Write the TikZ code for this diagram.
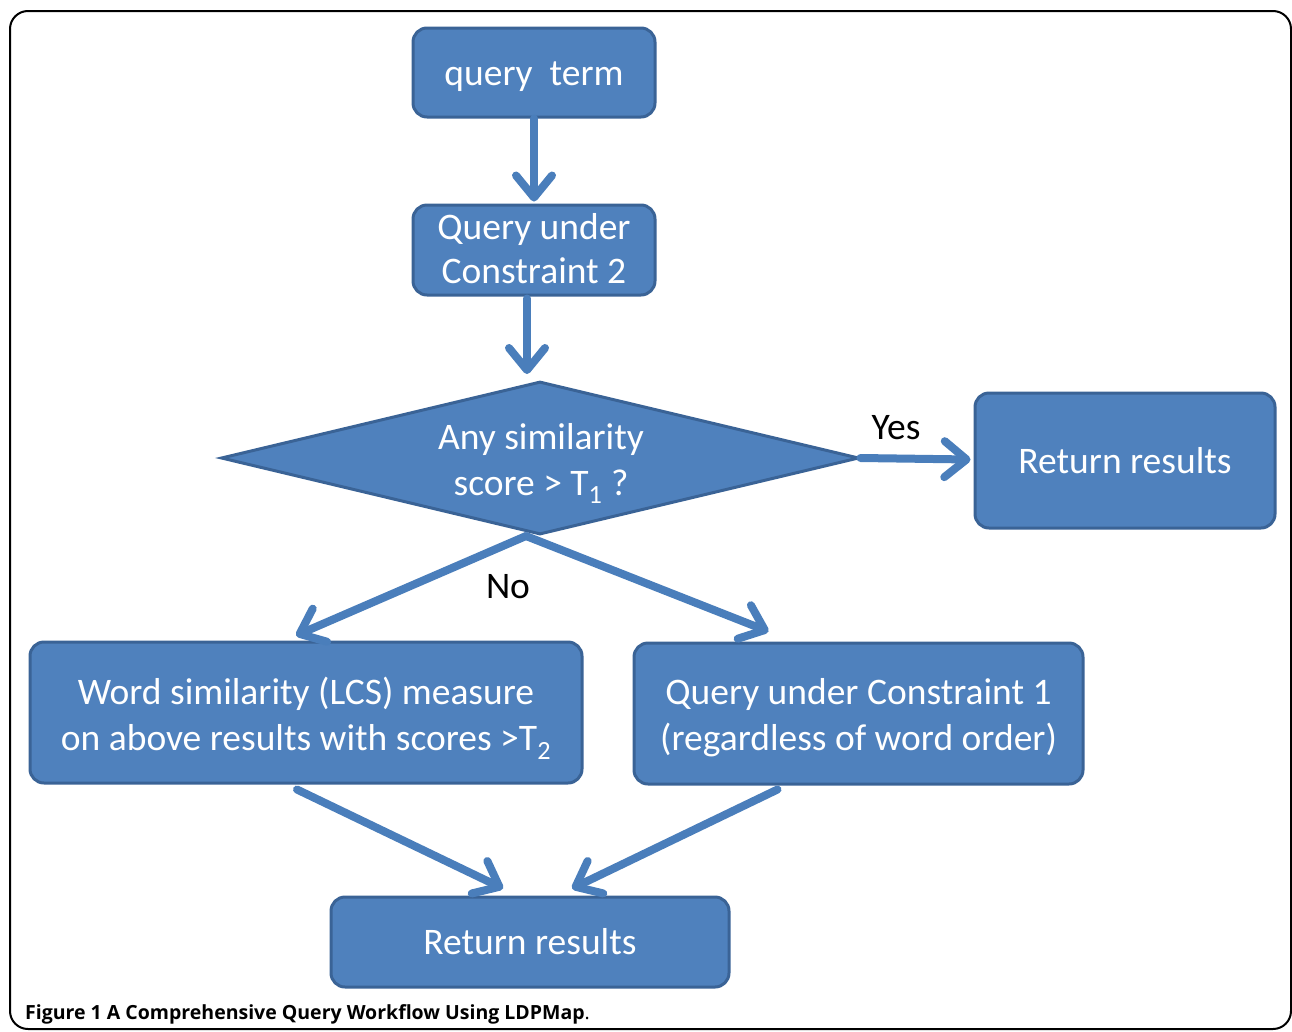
\documentclass[tikz,border=0pt]{standalone}
\usepackage{fontspec}
\setmainfont{Carlito}
\newfontfamily\capfont{Open Sans}
\usetikzlibrary{arrows.meta,shapes.geometric,calc}
\definecolor{boxfill}{HTML}{4F81BD}
\definecolor{boxline}{HTML}{3A6396}
\definecolor{arrowc}{HTML}{4A7EBB}
\newcommand\twolines[3]{\raisebox{-#1}[\height][\depth]{\begin{tabular}{@{}c@{}}#2\\#3\end{tabular}}}
\begin{document}
\begin{tikzpicture}[x=1pt,y=-1pt,
  box/.style={draw=boxline, line width=3pt, fill=boxfill, rounded corners=14pt,
    text=white, font=\fontsize{37.5}{46}\selectfont, align=center, inner sep=0pt},
  decision/.style={diamond, draw=boxline, line width=3pt, fill=boxfill,
    inner sep=0pt, minimum width=638pt, minimum height=153pt},
  dtext/.style={text=white, font=\fontsize{37.5}{46}\selectfont, align=center, inner sep=0pt},
  flow/.style={draw=arrowc, line width=8pt, line cap=round,
    -{Straight Barb[length=22pt,width=36pt,line cap=round,line join=round]}},
  lbl/.style={font=\fontsize{37.5}{44}\selectfont, text=black, inner sep=0pt}
]
\useasboundingbox (0,0) rectangle (1292,1031);
\draw[line width=2pt, rounded corners=18pt] (10,11) rectangle (1291,1029);

\node[box, minimum width=242pt, minimum height=89pt, text height=33pt, text depth=8pt] (qt) at (534,72.5) {query~~term};
\node[box, minimum width=242pt, minimum height=90pt, font=\fontsize{37.5}{44}\selectfont] (qc2) at (534,250) {\twolines{3pt}{Query under}{Constraint 2}};
\node[decision] (dec) at (540,458) {};
\node[dtext] (dect) at (541,460) {\twolines{3pt}{Any similarity}{score > T\textsubscript{1} ?}};
\node[box, minimum width=300pt, minimum height=135pt] (rr) at (1125,460.5) {Return results};
\node[box, minimum width=552pt, minimum height=141pt] (ws) at (306,712.5) {\twolines{6pt}{Word similarity (LCS) measure}{on above results with scores >T\textsubscript{2}}};
\node[box, minimum width=449pt, minimum height=141pt] (qc1) at (858.5,713.5) {\twolines{5pt}{Query under Constraint 1}{(regardless of word order)}};
\node[box, minimum width=398pt, minimum height=90pt] (rb) at (530,942) {Return results};

\coordinate (a2s) at ($(qc2.south)+(-7,2)$);
\coordinate (a2e) at ($(dec.north)+(-13,-6)$);
\coordinate (ds) at ($(dec.south)+(-14,0)$);
\coordinate (nl) at ($(ws.north)+(-10,-5)$);
\coordinate (nr) at ($(qc1.north)+(-90,-10)$);
\coordinate (ls) at ($(ws.south)+(-9,5)$);
\coordinate (le) at ($(rb.north)+(-27,-7)$);
\coordinate (rs) at ($(qc1.south)+(-81,4)$);
\coordinate (re) at ($(rb.north)+(42,-7)$);

\draw[flow] (qt.south) -- ($(qc2.north)+(0,-2)$);
\draw[flow] (a2s) -- (a2e);
\draw[flow] (dec.east) -- ($(rr.west)+(-3,-1)$);
\draw[flow] (ds) -- (nl);
\draw[flow] (ds) -- (nr);
\draw[flow] (ls) -- (le);
\draw[flow] (rs) -- (re);

\node[lbl] (yes) at (896,428) {Yes};
\node[lbl] (no) at (508,587) {No};

\node[anchor=west, inner sep=0pt, font=\capfont\fontsize{19.5}{22}\selectfont] (cap) at (25,1014)
  {\textbf{Figure 1} \textbf{A Comprehensive Query Workflow Using LDPMap}.};
\end{tikzpicture}
\end{document}
